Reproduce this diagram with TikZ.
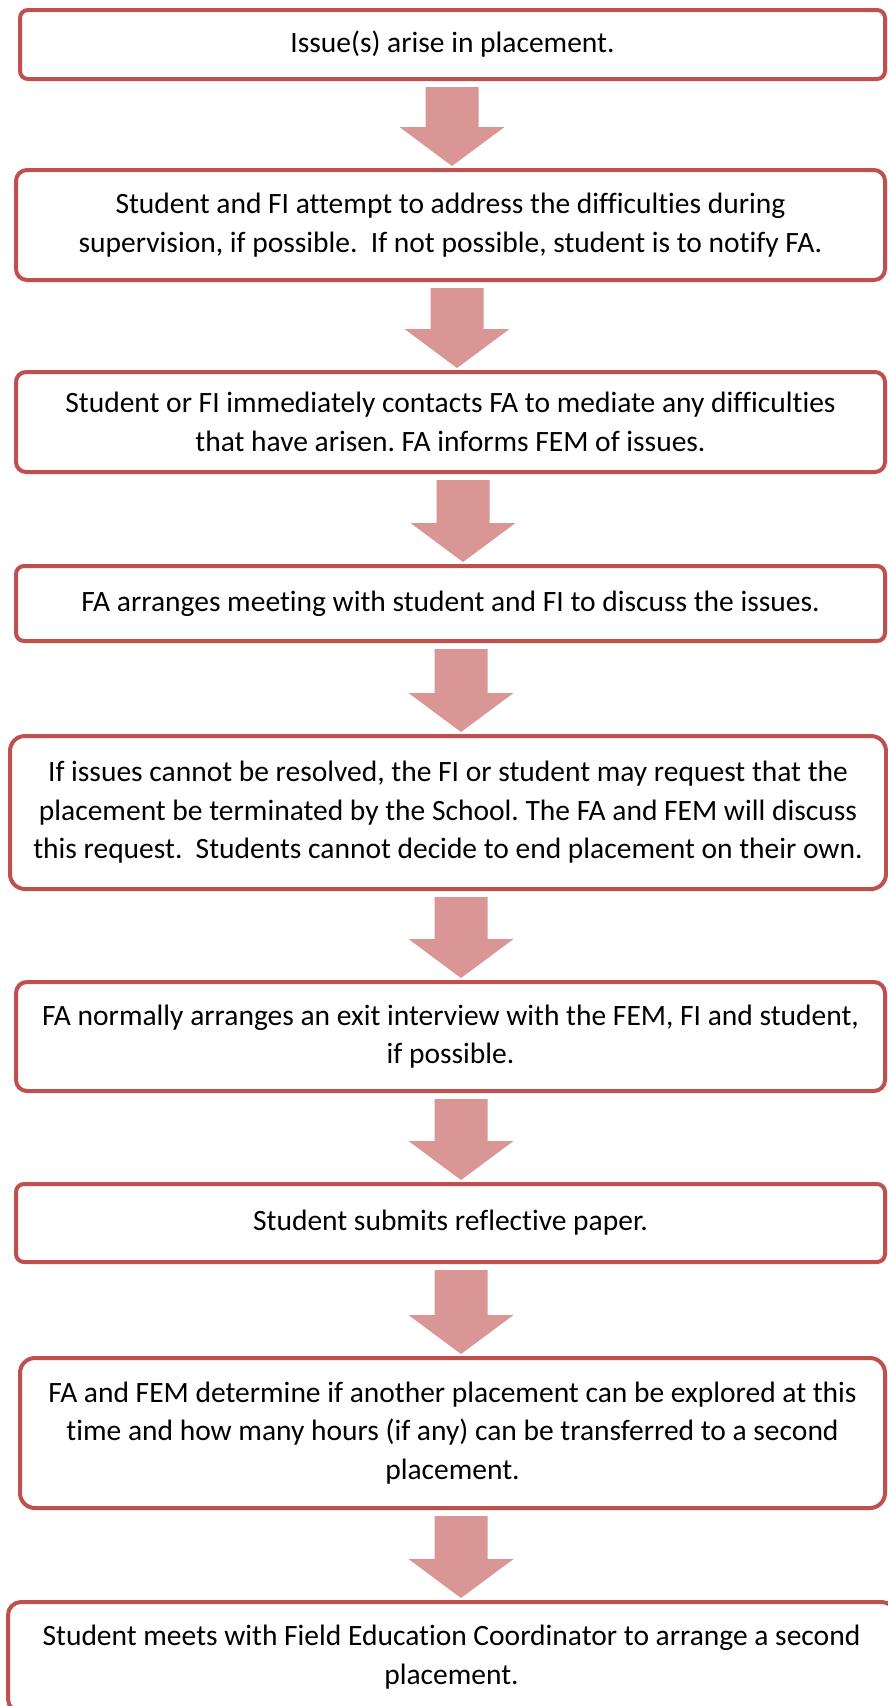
\documentclass[tikz,border=0pt]{standalone}
\usepackage{fontspec}
\setmainfont[Ligatures=NoCommon]{Carlito}
\usetikzlibrary{calc}
\definecolor{boxline}{HTML}{C0504D}
\definecolor{arrowfill}{HTML}{D99694}
\tikzset{
  flowbox/.style={draw=boxline, line width=4pt, fill=white, rectangle, outer sep=0pt,
    inner sep=0pt, align=center, text=black,
    font=\fontsize{29.5pt}{38.5pt}\selectfont\frenchspacing},
}
% block arrow from node #1 to node #2, centred at x = #3
\newcommand\blockarrow[3]{%
  \fill[arrowfill] let \p1=(#1.south), \p2=(#2.north) in
    (#3pt-26.5pt,\y1-8pt) -- (#3pt+26.5pt,\y1-8pt) -- (#3pt+26.5pt,\y2+43pt)
    -- (#3pt+52.5pt,\y2+43pt) -- (#3pt,\y2+4pt) -- (#3pt-52.5pt,\y2+43pt)
    -- (#3pt-26.5pt,\y2+43pt) -- cycle;}
\begin{document}
\begin{tikzpicture}[x=1pt,y=-1pt]
\useasboundingbox (0,0) rectangle (888,1706);
\clip (0,0) rectangle (888,1706);
\fill[white] (0,0) rectangle (888,1706);

\node[flowbox, minimum width=865pt, minimum height=69pt, rounded corners=8pt] (b1) at (452.5,44.5)
  {Issue(s) arise in placement.};
\node[flowbox, minimum width=869pt, minimum height=110pt, rounded corners=11pt] (b2) at (450.5,225)
  {Student and FI attempt to address the difficulties during\\supervision, if possible.\ \ If not possible, student is to notify FA.};
\node[flowbox, minimum width=869pt, minimum height=100pt, rounded corners=10pt] (b3) at (450.5,422)
  {Student or FI immediately contacts FA to mediate any difficulties\\that have arisen. FA informs FEM of issues.};
\node[flowbox, minimum width=869pt, minimum height=75pt, rounded corners=8pt] (b4) at (450.5,603.5)
  {FA arranges meeting with student and FI to discuss the issues.};
\node[flowbox, minimum width=876pt, minimum height=153pt, rounded corners=15pt] (b5) at (448,812.5)
  {If issues cannot be resolved, the FI or student may request that the\\placement be terminated by the School. The FA and FEM will discuss\\this request.\ \ Students cannot decide to end placement on their own.};
\node[flowbox, minimum width=869pt, minimum height=109pt, rounded corners=11pt] (b6) at (450.5,1036.5)
  {FA normally arranges an exit interview with the FEM, FI and student,\\if possible.};
\node[flowbox, minimum width=869pt, minimum height=78pt, rounded corners=8pt] (b7) at (450.5,1223)
  {Student submits reflective paper.};
\node[flowbox, minimum width=865pt, minimum height=150pt, rounded corners=15pt] (b8) at (452.5,1433)
  {FA and FEM determine if another placement can be explored at this\\time and how many hours (if any) can be transferred to a second\\placement.};
\node[flowbox, minimum width=887pt, minimum height=110pt, rounded corners=13pt] (b9) at (451.5,1657)
  {Student meets with Field Education Coordinator to arrange a second\\placement.};

\blockarrow{b1}{b2}{452}
\blockarrow{b2}{b3}{457}
\blockarrow{b3}{b4}{463}
\blockarrow{b4}{b5}{461}
\blockarrow{b5}{b6}{461}
\blockarrow{b6}{b7}{461}
\blockarrow{b7}{b8}{461}
\blockarrow{b8}{b9}{461}
\end{tikzpicture}
\end{document}
